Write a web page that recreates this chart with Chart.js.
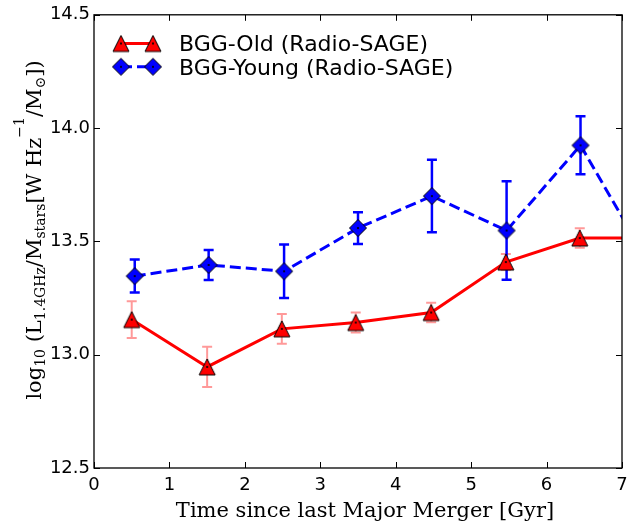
<!DOCTYPE html>
<html>
<head>
<meta charset="utf-8">
<script src="https://cdn.jsdelivr.net/npm/chart.js@4.4.1/dist/chart.umd.min.js"></script>
<style>
  html, body { margin: 0; padding: 0; background: #fff; }
  #c { display: block; }
</style>
</head>
<body>
<canvas id="c" width="641" height="524"></canvas>
<script>
'use strict';

// Mean time since the last major merger for each 1 Gyr bin, and the
// stacked radio luminosity per stellar mass (log10) with its error
const oldTime   = [0.5, 1.5, 2.49, 3.47, 4.47, 5.46, 6.44, 7.45];
const oldLum    = [13.155, 12.946, 13.114, 13.142, 13.186, 13.409, 13.515, 13.515];
const oldErr    = [0.081, 0.089, 0.066, 0.044, 0.043, 0.035, 0.043, 0.04];

const youngTime = [0.54, 1.52, 2.52, 3.5, 4.48, 5.47, 6.45, 7.45];
const youngLum  = [13.347, 13.396, 13.368, 13.559, 13.700, 13.548, 13.924, 13.35];
const youngErr  = [0.073, 0.066, 0.118, 0.07, 0.16, 0.217, 0.128, 0.1];

const xTicks = [0, 1, 2, 3, 4, 5, 6, 7];
const yTicks = [12.5, 13.0, 13.5, 14.0, 14.5];

const seriesNames = ['BGG-Old (Radio-SAGE)', 'BGG-Young (Radio-SAGE)'];
const xTitle = 'Time since last Major Merger [Gyr]';
// runs of the y label: 0 = normal, -1 = subscript, 1 = superscript
const yTitle = [
  ['log', 0], ['10', -1], [' (', 0], ['L', 0], ['1.4GHz', -1], ['/', 0],
  ['M', 0], ['stars', -1], ['[W Hz', 0], ['\u22121', 1], ['/M', 0],
  ['\u2299', -1], ['])', 0]
];

const SERIF = "'DejaVu Serif', serif";
const SANS  = "'DejaVu Sans', sans-serif";

// marker sprites, bounding box centred on the data point
function marker(kind) {
  const c = document.createElement('canvas');
  c.width = 20; c.height = 20;
  const g = c.getContext('2d');
  g.beginPath();
  if (kind === 'tri') {
    g.moveTo(10, 2); g.lineTo(18, 18); g.lineTo(2, 18);
  } else {
    g.moveTo(10, 1.5); g.lineTo(18.5, 10); g.lineTo(10, 18.5); g.lineTo(1.5, 10);
  }
  g.closePath();
  g.fillStyle = kind === 'tri' ? '#ff0000' : '#0000ff';
  g.fill();
  g.lineWidth = 1;
  g.strokeStyle = '#000';
  g.stroke();
  g.beginPath();
  g.arc(10, 10, 1.1, 0, Math.PI * 2);
  g.fillStyle = '#000';
  g.fill();
  return c;
}
const triImg = marker('tri');
const diaImg = marker('dia');

const toPoints = (xs, ys) => xs.map((x, i) => ({ x, y: ys[i] }));

// vertical error bars with caps, under the lines and markers
const errorBars = {
  id: 'errorBars',
  beforeDatasetsDraw(chart) {
    const { ctx, chartArea: a, scales: { x, y } } = chart;
    ctx.save();
    ctx.beginPath();
    ctx.rect(a.left, a.top, a.right - a.left, a.bottom - a.top);
    ctx.clip();
    chart.data.datasets.forEach(ds => {
      const e = ds.errorBar;
      ctx.strokeStyle = e.color;
      ctx.lineWidth = e.width;
      ds.data.forEach((p, i) => {
        const px = x.getPixelForValue(p.x);
        const top = y.getPixelForValue(p.y + e.values[i]);
        const bot = y.getPixelForValue(p.y - e.values[i]);
        ctx.beginPath();
        ctx.moveTo(px, top); ctx.lineTo(px, bot);
        ctx.moveTo(px - e.cap, top); ctx.lineTo(px + e.cap, top);
        ctx.moveTo(px - e.cap, bot); ctx.lineTo(px + e.cap, bot);
        ctx.stroke();
      });
    });
    ctx.restore();
  }
};

// box frame with inward ticks on all four sides
const frame = {
  id: 'frame',
  afterDatasetsDraw(chart) {
    const { ctx, chartArea: a, scales: { x, y } } = chart;
    const len = 6;
    ctx.save();
    ctx.strokeStyle = '#000';
    ctx.lineWidth = 1;
    ctx.beginPath();
    xTicks.forEach(v => {
      const px = Math.round(x.getPixelForValue(v)) + 0.5;
      ctx.moveTo(px, a.bottom); ctx.lineTo(px, a.bottom - len);
      ctx.moveTo(px, a.top); ctx.lineTo(px, a.top + len);
    });
    yTicks.forEach(v => {
      const py = Math.round(y.getPixelForValue(v)) + 0.5;
      ctx.moveTo(a.left, py); ctx.lineTo(a.left + len, py);
      ctx.moveTo(a.right, py); ctx.lineTo(a.right - len, py);
    });
    ctx.stroke();
    ctx.lineWidth = 1.3;
    ctx.strokeRect(a.left, a.top, a.right - a.left, a.bottom - a.top);
    ctx.restore();
  }
};

// legend: a short line with a marker at each end
const legendBox = {
  id: 'legendBox',
  afterDraw(chart) {
    const { ctx } = chart;
    const x0 = 121, x1 = 153;
    ctx.save();
    chart.data.datasets.forEach((ds, i) => {
      const yy = 43.5 + i * 23.3;
      ctx.strokeStyle = ds.borderColor;
      ctx.lineWidth = ds.borderWidth;
      ctx.setLineDash(ds.borderDash || []);
      ctx.beginPath();
      ctx.moveTo(x0, yy); ctx.lineTo(x1, yy);
      ctx.stroke();
      ctx.setLineDash([]);
      [x0, x1].forEach(mx => ctx.drawImage(ds.pointStyle, mx - 10, yy - 10));
      ctx.fillStyle = '#000';
      ctx.font = '22px ' + SANS;
      ctx.textBaseline = 'alphabetic';
      ctx.fillText(ds.label, 179, yy + 7.8);
    });
    ctx.restore();
  }
};

// axis titles in a serif face, y label with sub/superscripts
const axisTitles = {
  id: 'axisTitles',
  afterDraw(chart) {
    const { ctx } = chart;
    ctx.save();
    ctx.fillStyle = '#000';
    ctx.textBaseline = 'alphabetic';
    ctx.font = '21px ' + SERIF;
    ctx.textAlign = 'center';
    ctx.fillText(xTitle, 365, 516.5);

    ctx.textAlign = 'left';
    const fontFor = k => (k === 0 ? '21px ' : '14px ') + SERIF;
    let total = 0;
    yTitle.forEach(([t, k]) => { ctx.font = fontFor(k); total += ctx.measureText(t).width; });
    ctx.translate(40.5, 230);
    ctx.rotate(-Math.PI / 2);
    let cx = -total / 2;
    yTitle.forEach(([t, k]) => {
      ctx.font = fontFor(k);
      const dy = k === -1 ? 4 : (k === 1 ? -17 : 0);
      ctx.fillText(t, cx, dy);
      cx += ctx.measureText(t).width;
    });
    ctx.restore();
  }
};

new Chart(document.getElementById('c'), {
  type: 'line',
  data: {
    datasets: [
      {
        label: seriesNames[0],
        data: toPoints(oldTime, oldLum),
        borderColor: '#ff0000',
        borderWidth: 3,
        pointStyle: triImg,
        pointRadius: 9,
        tension: 0,
        clip: 0,
        order: 0,
        errorBar: { values: oldErr, color: 'rgba(255,0,0,0.4)', width: 2, cap: 5 }
      },
      {
        label: seriesNames[1],
        data: toPoints(youngTime, youngLum),
        borderColor: '#0000ff',
        borderWidth: 3,
        borderDash: [11, 5],
        pointStyle: diaImg,
        pointRadius: 9,
        tension: 0,
        clip: 0,
        order: 1,
        errorBar: { values: youngErr, color: '#0000ff', width: 2.5, cap: 5 }
      }
    ]
  },
  options: {
    responsive: false,
    animation: false,
    devicePixelRatio: 1,
    layout: { padding: { top: 14, right: 19, left: 0, bottom: 0 } },
    plugins: { legend: { display: false }, tooltip: { enabled: false } },
    scales: {
      x: {
        type: 'linear', min: 0, max: 7,
        grid: { display: false, drawTicks: false },
        border: { display: false },
        afterBuildTicks: s => { s.ticks = xTicks.map(v => ({ value: v })); },
        afterFit: s => { s.height = 56; },
        ticks: {
          font: { family: SANS, size: 18 }, color: '#000', padding: 7,
          maxRotation: 0, autoSkip: false, callback: v => String(v)
        }
      },
      y: {
        type: 'linear', min: 12.5, max: 14.5,
        grid: { display: false, drawTicks: false },
        border: { display: false },
        afterBuildTicks: s => { s.ticks = yTicks.map(v => ({ value: v })); },
        afterFit: s => { s.width = 94; },
        ticks: {
          font: { family: SANS, size: 18 }, color: '#000', padding: 4,
          autoSkip: false, callback: v => v.toFixed(1)
        }
      }
    }
  },
  plugins: [errorBars, frame, legendBox, axisTitles]
});
</script>
</body>
</html>
